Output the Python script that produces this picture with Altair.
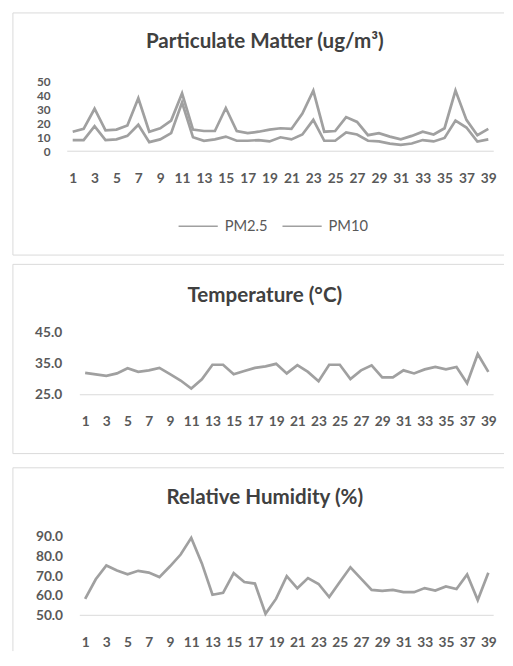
import altair as alt
import pandas as pd

# ---------------- data ----------------
days = list(range(1, 40))
pm25 = [8, 8, 18, 8, 8.5, 11, 19, 6.5, 8.5, 13, 35, 10, 7.5, 8.5, 10.5, 7.5, 7.5, 8, 7, 10,
        8.5, 12, 22.5, 7.5, 7.5, 13.5, 12, 7.5, 7, 5.5, 4.5, 5.5, 8, 7, 9.5, 22, 17, 7, 8.5]
pm10 = [14, 16, 30.5, 15, 15.5, 18.5, 38, 14, 16.5, 22, 41.5, 15.5, 14.5, 14.5, 31, 14.5, 13, 14, 15.5, 16.5,
        16, 27, 43.5, 14, 14.5, 24.5, 21, 11.5, 13, 10.5, 8.5, 11, 14, 12, 16.5, 43.5, 22.5, 11.5, 16]
temperature = [32.1, 31.6, 31.1, 31.9, 33.6, 32.4, 32.9, 33.7, 31.7, 29.6, 27.0, 30.0, 34.7, 34.7, 31.6, 32.7,
               33.7, 34.2, 35.0, 31.9, 34.6, 32.4, 29.4, 34.7, 34.7, 30.1, 32.9, 34.5, 30.6, 30.6, 32.9, 31.9,
               33.2, 34.0, 33.2, 34.0, 28.7, 38.2, 32.4]
humidity = [58.4, 68.4, 75.4, 72.9, 70.9, 72.7, 71.8, 69.5, 75.0, 81.0, 89.5, 76.5, 60.5, 61.5, 71.5, 67.0,
            66.2, 50.8, 58.5, 70.0, 63.8, 69.0, 66.0, 59.3, 67.0, 74.5, 68.7, 63.0, 62.5, 63.0, 61.8, 61.8,
            63.9, 62.6, 64.7, 63.4, 70.8, 57.8, 71.7]
series_names = ["PM2.5", "PM10"]
titles = ["Particulate Matter (ug/m³)", "Temperature (°C)", "Relative Humidity (%)"]
x_ticks = list(range(1, 40, 2))
pm_ticks = [0, 10, 20, 30, 40, 50]
temp_ticks = [25, 35, 45]
rh_ticks = [50, 60, 70, 80, 90]

# ---------------- styling ----------------
W = 493
FONT = "Lato"
LINE = "#a0a0a0"
BORDER = "#d9d9d9"
LABEL = "#595959"
TITLE = "#404040"


def frame(H, bottom=True):
    one = alt.Chart(pd.DataFrame({"k": [0]}))
    layers = [
        one.mark_rule(color=BORDER, strokeWidth=1).encode(x=alt.value(0), x2=alt.value(W + 8), y=alt.value(0)),
        one.mark_rule(color=BORDER, strokeWidth=1).encode(x=alt.value(0), y=alt.value(0), y2=alt.value(H)),
    ]
    if bottom:
        layers.append(one.mark_rule(color=BORDER, strokeWidth=1).encode(
            x=alt.value(0), x2=alt.value(W + 8), y=alt.value(H)))
    return layers


def title_mark(text, ty):
    return alt.Chart(pd.DataFrame({"k": [0]})).mark_text(
        text=text, font=FONT, fontSize=21, fontWeight="bold", color=TITLE,
        align="center", baseline="alphabetic").encode(x=alt.value(257), y=alt.value(ty))


def xdef(domain, offset):
    return alt.X("day:Q", scale=alt.Scale(domain=domain, nice=False, zero=False),
                 axis=alt.Axis(values=x_ticks, title=None, domain=False, ticks=False, tickSize=0, grid=False,
                               labelPadding=0, labelBaseline="middle", offset=offset, labelFontSize=14,
                               labelColor=LABEL, labelFont=FONT, labelFontWeight="bold",
                               labelOverlap=False, labelFlush=False))


def ydef(domain, ticks, offset, fmt, fs):
    return alt.Y("value:Q", scale=alt.Scale(domain=domain, nice=False, zero=False),
                 axis=alt.Axis(values=ticks, title=None, domain=False, ticks=False, tickSize=0, grid=False,
                               labelPadding=0, offset=offset, format=fmt, labelFontSize=fs,
                               labelColor=LABEL, labelFont=FONT, labelFontWeight="bold",
                               labelOverlap=False, labelFlush=False))


# ---------------- panel 1: particulate matter ----------------
H1 = 247
pm_df = pd.DataFrame({"day": days * 2, "value": pm25 + pm10,
                      "series": [series_names[0]] * 39 + [series_names[1]] * 39})
x1 = xdef([-4.467, 39.72], -77.7)
y1 = ydef([-74.6, 99.3], pm_ticks, -38, "d", 12)
base1 = alt.Chart(pd.DataFrame({"day": [0.5], "day2": [39.5], "value": [0]})).mark_rule(
    color=BORDER, strokeWidth=1).encode(x=x1, x2="day2:Q", y=y1)
lines1 = alt.Chart(pm_df).mark_line(strokeWidth=2.75).encode(
    x=x1, y=y1,
    color=alt.Color("series:N", scale=alt.Scale(domain=series_names, range=[LINE, LINE]),
                    legend=alt.Legend(orient="none", legendX=168, legendY=196.7, direction="horizontal",
                                      title=None, symbolType="stroke", symbolSize=1600,
                                      symbolStrokeWidth=1.5, labelFontSize=15, labelColor=LABEL,
                                      labelFont=FONT, columnPadding=12, labelOffset=6, padding=0)),
)
p1 = alt.layer(*frame(H1), title_mark(titles[0], 36), base1, lines1).properties(width=W, height=H1)

# ---------------- panel 2: temperature ----------------
H2 = 193
t_df = pd.DataFrame({"day": days, "value": temperature})
x2 = xdef([-5.809, 39.738], -33)
y2 = ydef([5.95, 67.2], temp_ticks, -49.7, ".1f", 14)
base2 = alt.Chart(pd.DataFrame({"day": [0.5], "day2": [39.5], "value": [25]})).mark_rule(
    color=BORDER, strokeWidth=1).encode(x=x2, x2="day2:Q", y=y2)
lines2 = alt.Chart(t_df).mark_line(strokeWidth=2.75, color=LINE).encode(x=x2, y=y2)
p2 = alt.layer(*frame(H2), title_mark(titles[1], 38), base2, lines2).properties(width=W, height=H2)

# ---------------- panel 3: relative humidity ----------------
H3 = 187
h_df = pd.DataFrame({"day": days, "value": humidity})
x3 = xdef([-5.809, 39.738], -8.3)
y3 = ydef([31.75, 125.25], rh_ticks, -50.7, ".1f", 14)
base3 = alt.Chart(pd.DataFrame({"day": [0.5], "day2": [39.5], "value": [50]})).mark_rule(
    color=BORDER, strokeWidth=1).encode(x=x3, x2="day2:Q", y=y3)
lines3 = alt.Chart(h_df).mark_line(strokeWidth=2.75, color=LINE).encode(x=x3, y=y3)
p3 = alt.layer(*frame(H3, bottom=False), title_mark(titles[2], 37), base3, lines3).properties(
    width=W, height=H3)

chart = alt.vconcat(alt.vconcat(p1, p2, spacing=7.5), p3, spacing=13).resolve_scale(
    x="independent", y="independent", color="independent"
).properties(
    padding={"left": 4, "top": -2.5, "right": 0, "bottom": 0},
    background="white",
).configure_view(stroke=None)

chart.save("out.html", embed_options={"renderer": "svg", "actions": False})
